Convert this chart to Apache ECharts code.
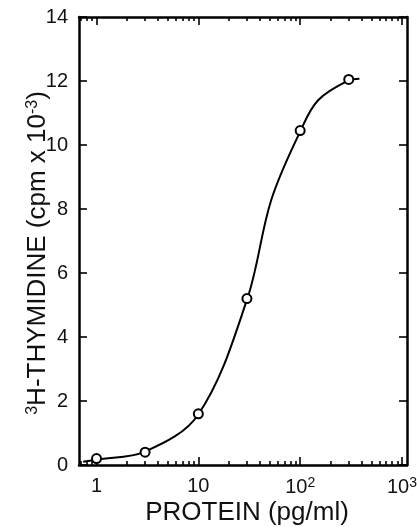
<!DOCTYPE html>
<html>
<head>
<meta charset="utf-8">
<script src="https://cdn.jsdelivr.net/npm/echarts@6/dist/echarts.min.js"></script>
<style>
html,body{margin:0;padding:0;background:#fff;}
#c{width:417px;height:527px;}
</style>
</head>
<body>
<div id="c"></div>
<script>
// measured points
const proteinX = [1, 3, 10, 30, 100, 300];
const thymidineY = [0.2, 0.4, 1.6, 5.2, 10.45, 12.05];
// fitted curve
const curveX = [0.74, 1, 3, 10, 30, 52, 100, 150, 300, 382];
const curveY = [0.1, 0.17, 0.42, 1.58, 5.16, 8.28, 10.42, 11.4, 12.02, 12.07];
// axis ticks
const xMajorTicks = [1, 10, 100, 1000];
const xMinorTicks = [0.7, 0.8, 0.9, 2, 3, 4, 5, 6, 7, 8, 9, 20, 30, 40, 50, 60, 70, 80, 90, 200, 300, 400, 500, 600, 700, 800, 900];
const xTickLabels = ['1', '10', '10{sup|2}', '10{sup|3}'];
const yTicks = [0, 2, 4, 6, 8, 10, 12, 14];

const FONT = 'Liberation Sans';
const chart = echarts.init(document.getElementById('c'), null, {renderer: 'canvas'});
const XMIN = 0.673, XMAX = 1120;

function xAxisDef(pos, major, showLine, showLabels) {
  return {
    type: 'log', logBase: 10, position: pos, min: XMIN, max: XMAX,
    axisLine: {show: showLine, lineStyle: {color: '#000', width: 2.5}},
    axisTick: {show: true, inside: true, length: major ? 8 : 4,
      customValues: major ? xMajorTicks : xMinorTicks,
      lineStyle: {color: '#000', width: 1.6}},
    axisLabel: showLabels ? {
      show: true, customValues: xMajorTicks, margin: 11,
      color: '#111', fontFamily: FONT, fontSize: 20,
      formatter: v => xTickLabels[xMajorTicks.indexOf(Math.round(v))] || '',
      rich: {sup: {fontSize: 14, fontFamily: FONT, color: '#111', verticalAlign: 'top', padding: [0, 0, 8, 0]}}
    } : {show: false},
    splitLine: {show: false},
    name: showLabels ? 'PROTEIN (pg/ml)' : '',
    nameLocation: 'middle', nameGap: 35, nameMoveOverlap: false,
    nameTextStyle: {fontFamily: FONT, fontSize: 26, color: '#111', padding: [0, 0, 0, 8]}
  };
}

function yAxisDef(pos, showLabels) {
  return {
    type: 'value', position: pos, min: 0, max: 14, interval: 2,
    axisLine: {show: true, lineStyle: {color: '#000', width: 2.5}},
    axisTick: {show: true, inside: true, length: 8, lineStyle: {color: '#000', width: 1.6}},
    axisLabel: showLabels ? {show: true, margin: 11, color: '#111', fontFamily: FONT, fontSize: 20,
      formatter: v => yTicks.indexOf(v) >= 0 ? String(v) : ''} : {show: false},
    splitLine: {show: false},
    name: showLabels ? '{sup|3}H-THYMIDINE (cpm x 10{sup|-3})' : '',
    nameLocation: 'middle', nameGap: 28, nameRotate: 90, nameMoveOverlap: false,
    nameTextStyle: {fontFamily: FONT, fontSize: 26, color: '#111', padding: [0, 24, 0, 0],
      rich: {sup: {fontSize: 16, fontFamily: FONT, color: '#111', verticalAlign: 'top', padding: [0, 0, 10, 0]}}}
  };
}

chart.setOption({
  animation: false,
  backgroundColor: '#fff',
  grid: {left: 79, right: 10, top: 17, bottom: 62, containLabel: false, outerBoundsMode: 'none'},
  xAxis: [
    xAxisDef('bottom', true, true, true),
    xAxisDef('bottom', false, false, false),
    xAxisDef('top', true, true, false),
    xAxisDef('top', false, false, false)
  ],
  yAxis: [yAxisDef('left', true), yAxisDef('right', false)],
  series: [
    {
      type: 'line', xAxisIndex: 0, yAxisIndex: 0,
      data: curveX.map((x, i) => [x, curveY[i]]),
      smooth: 0.35, showSymbol: false, symbol: 'none',
      lineStyle: {color: '#000', width: 2}
    },
    {
      type: 'scatter', xAxisIndex: 0, yAxisIndex: 0,
      data: proteinX.map((x, i) => [x, thymidineY[i]]),
      symbol: 'circle', symbolSize: 9,
      itemStyle: {color: '#fff', borderColor: '#000', borderWidth: 2, opacity: 1},
      z: 5
    }
  ]
});
</script>
</body>
</html>
